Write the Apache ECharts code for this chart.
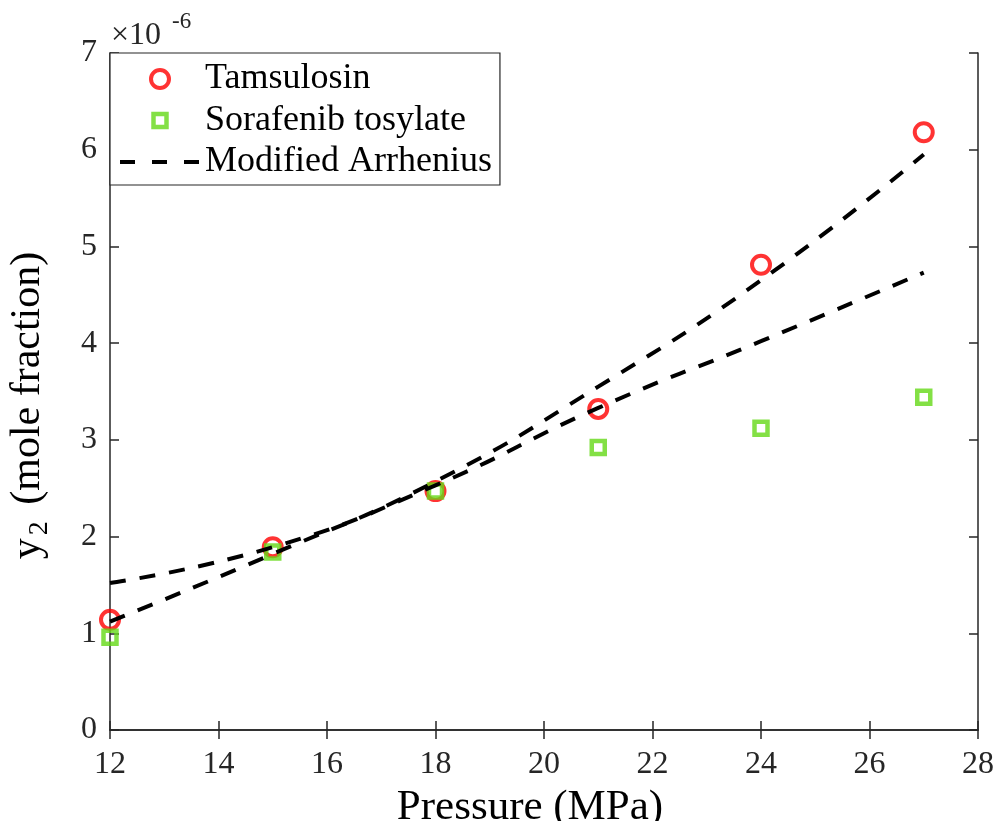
<!DOCTYPE html>
<html>
<head>
<meta charset="utf-8">
<script src="https://cdn.jsdelivr.net/npm/echarts@6/dist/echarts.min.js"></script>
<style>
  html, body { margin: 0; padding: 0; background: #fff; }
  #chart { width: 997px; height: 821px; }
</style>
</head>
<body>
<div id="chart"></div>
<script>
// Pressure levels (MPa)
const pressure = [12, 15, 18, 21, 24, 27];
// Measured solubilities, mole fraction ×10^-6
const tamsulosin = [1.14, 1.89, 2.47, 3.32, 4.81, 6.18];
const sorafenib = [0.96, 1.84, 2.47, 2.92, 3.12, 3.44];
// Modified Arrhenius correlation, ×10^-6
const fitTamsulosin = [1.12, 1.82, 2.57, 3.55, 4.65, 5.95];
const fitSorafenib = [1.52, 1.89, 2.53, 3.33, 4.02, 4.73];
// Axis ticks
const xTicks = [12, 14, 16, 18, 20, 22, 24, 26, 28];
const yTicks = [0, 1, 2, 3, 4, 5, 6, 7];

const pairs = (xs, ys) => xs.map((x, i) => [x, ys[i]]);

const AX = '#262626';
const RED = '#ff0000';
const GREEN = '#64d816';
const SERIF = 'Liberation Serif';

const chart = echarts.init(document.getElementById('chart'), null, { renderer: 'canvas' });

const tickLabel = { color: AX, fontFamily: SERIF, fontSize: 32 };

const option = {
  backgroundColor: '#fff',
  animation: false,
  grid: { left: 110, right: 19, top: 53, bottom: 91, containLabel: false, outerBoundsMode: 'none' },
  xAxis: [
    {
      type: 'value', min: xTicks[0], max: xTicks[xTicks.length - 1], interval: 2,
      name: 'Pressure (MPa)', nameLocation: 'middle', nameGap: 51,
      nameTextStyle: { color: '#000', fontFamily: SERIF, fontSize: 43, padding: [0, 28, 0, 0] },
      axisLine: { show: true, lineStyle: { color: AX, width: 1.5 } },
      axisTick: { show: true, inside: true, length: 9, lineStyle: { color: AX, width: 1.5 } },
      axisLabel: Object.assign({ margin: 19 }, tickLabel),
      splitLine: { show: false }
    },
    {
      type: 'value', position: 'top', min: xTicks[0], max: xTicks[xTicks.length - 1], interval: 2,
      axisLine: { show: true, lineStyle: { color: AX, width: 1.5 } },
      axisTick: { show: true, inside: true, length: 9, lineStyle: { color: AX, width: 1.5 } },
      axisLabel: { show: false },
      splitLine: { show: false }
    }
  ],
  yAxis: [
    {
      type: 'value', min: yTicks[0], max: yTicks[yTicks.length - 1], interval: 1,
      name: '{y|y}{s|2}{t| (mole fraction)}', nameLocation: 'middle', nameGap: 56,
      nameTextStyle: {
        color: '#000', fontFamily: SERIF, fontSize: 42, lineHeight: 52,
        padding: [0, 28, 0, 0],
        rich: {
          y: { fontFamily: SERIF, fontSize: 42, color: '#000', verticalAlign: 'middle', lineHeight: 52 },
          s: { fontFamily: SERIF, fontSize: 28, color: '#000', verticalAlign: 'bottom', padding: [0, 0, 0, 3] },
          t: { fontFamily: SERIF, fontSize: 42, color: '#000', verticalAlign: 'middle', lineHeight: 52, padding: [0, 0, 0, 6] }
        }
      },
      axisLine: { show: true, lineStyle: { color: AX, width: 1.5 } },
      axisTick: { show: true, inside: true, length: 9, lineStyle: { color: AX, width: 1.5 } },
      axisLabel: Object.assign({ margin: 13 }, tickLabel),
      splitLine: { show: false }
    },
    {
      type: 'value', position: 'right', min: yTicks[0], max: yTicks[yTicks.length - 1], interval: 1,
      axisLine: { show: true, lineStyle: { color: AX, width: 1.5 } },
      axisTick: { show: true, inside: true, length: 9, lineStyle: { color: AX, width: 1.5 } },
      axisLabel: { show: false },
      splitLine: { show: false }
    }
  ],
  legend: {
    orient: 'vertical',
    left: 110, top: 53,
    padding: [8, 8, 5, 8],
    itemGap: 5.5,
    itemWidth: 80, itemHeight: 18,
    backgroundColor: '#fff',
    borderColor: AX, borderWidth: 1.2, borderRadius: 0,
    textStyle: { color: '#000', fontFamily: SERIF, fontSize: 36 },
    data: [
      { name: 'Tamsulosin', icon: 'circle',
        itemStyle: { color: 'rgba(0,0,0,0)', borderColor: RED, borderWidth: 4 } },
      { name: 'Sorafenib tosylate', icon: 'path://M0,0M18,18M2.5,2.5h13v13h-13z',
        itemStyle: { color: 'rgba(0,0,0,0)', borderColor: GREEN, borderWidth: 4.5 } },
      { name: 'Modified Arrhenius', icon: 'inherit',
        itemStyle: { color: 'rgba(0,0,0,0)', borderColor: 'rgba(0,0,0,0)', borderWidth: 0, opacity: 0 },
        lineStyle: { color: '#000', width: 4, type: [15, 17] } }
    ]
  },
  series: [
    {
      name: 'Tamsulosin', type: 'scatter',
      data: pairs(pressure, tamsulosin),
      symbol: 'circle', symbolSize: 18,
      itemStyle: { color: 'rgba(0,0,0,0)', borderColor: RED, borderWidth: 4 },
      z: 2
    },
    {
      name: 'Sorafenib tosylate', type: 'scatter',
      data: pairs(pressure, sorafenib),
      symbol: 'rect', symbolSize: 13,
      itemStyle: { color: 'rgba(0,0,0,0)', borderColor: GREEN, borderWidth: 4.5 },
      z: 2
    },
    {
      name: 'Modified Arrhenius', type: 'line',
      data: pairs(pressure, fitTamsulosin),
      smooth: true, symbol: 'none',
      itemStyle: { color: '#000' },
      lineStyle: { color: '#000', width: 4, type: [16, 14] },
      z: 3
    },
    {
      name: 'Modified Arrhenius', type: 'line',
      data: pairs(pressure, fitSorafenib),
      smooth: true, symbol: 'none',
      itemStyle: { color: '#000' },
      lineStyle: { color: '#000', width: 4, type: [16, 14] },
      z: 3
    }
  ],
  graphic: [
    { type: 'text', left: 111, top: 20,
      style: { text: '×10', fontFamily: SERIF, fontSize: 32, fill: AX } },
    { type: 'text', left: 172, top: 10,
      style: { text: '-6', fontFamily: SERIF, fontSize: 23, fill: AX } }
  ]
};

chart.setOption(option);
</script>
</body>
</html>
